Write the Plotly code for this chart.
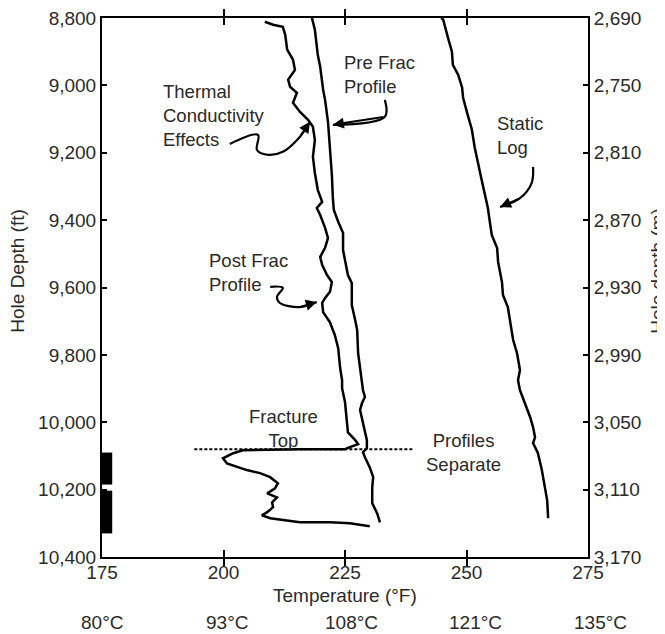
import plotly.graph_objects as go

# ── Data ──────────────────────────────────────────────────────────────
POST_TEMP = [208.5, 210.2, 212.2, 212.7, 213.1, 214.3, 214.7, 213.3, 213.7, 215.1,
             214.3, 215.7, 217.4, 218.4, 218.8, 218.4, 218.8, 219.4, 220.3, 219.2,
             219.9, 220.9, 221.5, 220.9, 219.9, 220.3, 221.3, 222.3, 221.9, 220.9,
             220.3, 220.5, 221.9, 222.9, 223.6, 224.0, 224.4, 224.4, 225.0, 225.4,
             225.6, 227.1, 227.7, 226.0, 225.0, 215.7, 204.0, 202.0, 199.9, 200.7,
             204.8, 207.5, 209.6, 211.2, 210.6, 209.0, 211.0, 210.0, 210.2, 209.0,
             207.9, 209.6, 212.2, 215.7, 221.9, 226.0, 230.1]
POST_DEPTH = [8811, 8820, 8826, 8850, 8894, 8924, 8954, 8983, 9004, 9022,
              9052, 9078, 9102, 9123, 9162, 9212, 9260, 9310, 9346, 9364,
              9385, 9423, 9453, 9482, 9509, 9533, 9563, 9584, 9613, 9631,
              9646, 9673, 9703, 9741, 9780, 9839, 9875, 9899, 9940, 9988,
              10030, 10053, 10065, 10074, 10080, 10080, 10083, 10092, 10107, 10122,
              10142, 10151, 10163, 10181, 10196, 10211, 10223, 10238, 10252, 10267,
              10276, 10285, 10291, 10297, 10297, 10300, 10309]

PRE_TEMP = [218.2, 218.8, 219.4, 219.9, 220.5, 220.9, 221.5, 221.9, 222.3, 222.5,
            222.7, 223.6, 224.6, 224.6, 225.0, 225.6, 226.4, 226.4, 227.1, 227.5,
            227.7, 228.5, 228.7, 229.1, 228.5, 228.1, 228.7, 229.5, 229.5, 228.7,
            229.1, 230.1, 230.8, 230.6, 230.6, 231.6, 232.2]
PRE_DEPTH = [8800, 8835, 8909, 8945, 9013, 9043, 9108, 9185, 9266, 9334,
             9370, 9405, 9438, 9489, 9524, 9563, 9587, 9652, 9697, 9726,
             9795, 9875, 9905, 9925, 9943, 9964, 10003, 10053, 10077, 10089,
             10104, 10134, 10163, 10193, 10240, 10270, 10297]

STATIC_TEMP = [244.8, 245.2, 246.2, 247.0, 247.2, 248.3, 249.1, 249.3, 250.1, 251.1,
               251.7, 252.4, 253.2, 253.8, 254.4, 254.8, 255.2, 256.3, 256.5, 257.3,
               257.5, 258.5, 259.0, 259.6, 260.4, 261.0, 260.6, 261.0, 262.0, 263.1,
               263.7, 264.1, 263.7, 264.7, 265.5, 266.2, 266.6, 266.8]
STATIC_DEPTH = [8800, 8805, 8859, 8900, 8939, 8969, 9007, 9037, 9080, 9131,
                9185, 9236, 9286, 9325, 9364, 9405, 9444, 9483, 9524, 9584,
                9622, 9658, 9705, 9756, 9795, 9845, 9875, 9905, 9943, 9985,
                10015, 10044, 10062, 10092, 10142, 10193, 10232, 10285]

FRAC_TOP_DEPTH = 10080
FRAC_LINE_TEMP = [194.0, 239.0]

PERF_TOP = [10090, 10203]
PERF_BOTTOM = [10185, 10330]
PERF_DOT_DEPTH = [10105, 10125, 10150, 10170, 10220, 10245, 10270, 10295, 10318]

FT_TICKS = [8800, 9000, 9200, 9400, 9600, 9800, 10000, 10200, 10400]
M_TICKS = [2690, 2750, 2810, 2870, 2930, 2990, 3050, 3110, 3170]
F_TICKS = [175, 200, 225, 250, 275]
C_LABELS = ["80°C", "93°C", "108°C", "121°C", "135°C"]

# ── Annotation leaders (temperature, depth) ───────────────────────────
LEADERS = {
    "thermal": [(201.3, 9174), (207.1, 9147), (206.9, 9192), (209.0, 9206),
                (212.2, 9197), (215.7, 9153), (217.8, 9108)],
    "pre": [(233.2, 9043), (233.2, 9093), (222.5, 9117)],
    "static": [(263.7, 9242), (263.4, 9290), (261.0, 9335), (256.9, 9361)],
    "post": [(209.6, 9598), (212.2, 9601), (211.0, 9628), (211.6, 9646),
             (215.7, 9658), (219.2, 9643)],
}

LABELS = [
    ("Thermal<br>Conductivity<br>Effects", 187.1, 9090, "left"),
    ("Pre Frac<br>Profile", 224.4, 8969, "left"),
    ("Static<br>Log", 255.9, 9150, "left"),
    ("Post Frac<br>Profile", 196.6, 9554, "left"),
    ("Fracture<br>Top", 212.4, 10018, "center"),
    ("Profiles<br>Separate", 249.3, 10089, "center"),
]

FONT = "Liberation Sans, Arial, sans-serif"
TEXT_COLOR = "#2a2a2a"
AXIS_FONT = 19
LABEL_FONT = 18.5
LINE_W = 2.5

fig = go.Figure()

for temps, depths in [(POST_TEMP, POST_DEPTH), (PRE_TEMP, PRE_DEPTH), (STATIC_TEMP, STATIC_DEPTH)]:
    fig.add_trace(go.Scatter(x=temps, y=depths, mode="lines",
                             line=dict(color="black", width=LINE_W),
                             showlegend=False, hoverinfo="skip"))

# fracture top dashed line
fig.add_trace(go.Scatter(x=FRAC_LINE_TEMP, y=[FRAC_TOP_DEPTH] * 2, mode="lines",
                         line=dict(color="black", width=2, dash="3px,2px"),
                         showlegend=False, hoverinfo="skip"))

# perforations
for top, bot in zip(PERF_TOP, PERF_BOTTOM):
    fig.add_shape(type="rect", xref="x", yref="y", x0=175, x1=177.1, y0=top, y1=bot,
                  fillcolor="black", line=dict(width=0))
fig.add_trace(go.Scatter(x=[176.0] * len(PERF_DOT_DEPTH), y=PERF_DOT_DEPTH, mode="markers",
                         marker=dict(color="white", size=2, symbol="square"),
                         showlegend=False, hoverinfo="skip"))

# leader lines with arrow heads
for pts in LEADERS.values():
    xs = [p[0] for p in pts]
    ys = [p[1] for p in pts]
    fig.add_trace(go.Scatter(x=xs, y=ys, mode="lines", line=dict(color="black", width=2.2, shape="spline"),
                             showlegend=False, hoverinfo="skip"))
    fig.add_annotation(x=xs[-1], y=ys[-1], ax=xs[-2], ay=ys[-2], xref="x", yref="y",
                       axref="x", ayref="y", text="", showarrow=True,
                       arrowhead=2, arrowsize=1.1, arrowwidth=2, arrowcolor="black")

for text, x, y, align in LABELS:
    fig.add_annotation(x=x, y=y, xref="x", yref="y", text=text, showarrow=False,
                       xanchor=align, yanchor="middle", align=align,
                       font=dict(family=FONT, size=LABEL_FONT, color=TEXT_COLOR))

# dummy trace so the metre axis is drawn
fig.add_trace(go.Scatter(x=[None], y=[None], yaxis="y2", showlegend=False, hoverinfo="skip"))

# bottom labels
fig.add_annotation(x=225, y=0, xref="x", yref="paper", yshift=-38, text="Temperature (°F)",
                   showarrow=False, yanchor="middle",
                   font=dict(family=FONT, size=AXIS_FONT, color=TEXT_COLOR))
for i, (t, lab) in enumerate(zip(F_TICKS, C_LABELS)):
    fig.add_annotation(x=t, y=0, xref="x", yref="paper", yshift=-65, xshift=3 * i,
                       text=lab, showarrow=False, yanchor="middle",
                       font=dict(family=FONT, size=AXIS_FONT, color=TEXT_COLOR))

fig.add_annotation(x=-0.173, y=0.531, xref="paper", yref="paper", text="Hole Depth (ft)",
                   textangle=-90, showarrow=False, xanchor="center", yanchor="middle",
                   font=dict(family=FONT, size=AXIS_FONT, color=TEXT_COLOR))
fig.add_annotation(x=1.144, y=0.531, xref="paper", yref="paper", text="Hole depth (m)",
                   textangle=-90, showarrow=False, xanchor="center", yanchor="middle",
                   font=dict(family=FONT, size=AXIS_FONT, color=TEXT_COLOR))

fig.update_layout(
    width=665, height=634, autosize=False,
    margin=dict(l=94, r=85, t=10, b=85, pad=0, autoexpand=False),
    paper_bgcolor="white", plot_bgcolor="white",
    font=dict(family=FONT, size=AXIS_FONT, color=TEXT_COLOR),
    xaxis=dict(range=[175, 275], tickvals=F_TICKS, ticks="inside", ticklen=7, tickwidth=2,
               tickcolor="black", showline=True, linecolor="black", linewidth=2,
               mirror="allticks", showgrid=False, zeroline=False, automargin=False,
               ticklabelstandoff=-3, ticklabeloverflow="allow"),
    yaxis=dict(range=[10400, 8800], tickvals=FT_TICKS, tickformat=",d", ticks="inside",
               ticklen=5, tickwidth=2, tickcolor="black", showline=True, linecolor="black",
               linewidth=2, mirror=True, showgrid=False, zeroline=False, automargin=False,
               ticklabeloverflow="allow"),
    yaxis2=dict(range=[3170, 2690], tickvals=M_TICKS, tickformat=",d", ticks="inside",
                ticklen=5, tickwidth=2, tickcolor="black", showline=True, linecolor="black",
                linewidth=2, overlaying="y", side="right", anchor="x", showgrid=False,
                zeroline=False, automargin=False, ticklabeloverflow="allow"),
)

fig.write_html("out.html")
